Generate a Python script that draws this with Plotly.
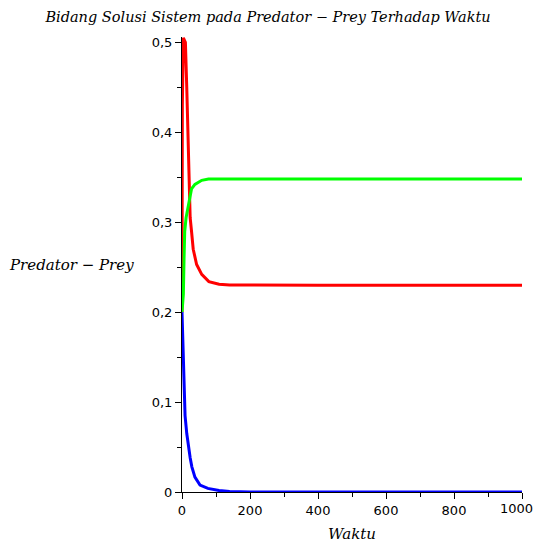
import plotly.graph_objects as go

# Time samples (Waktu)
t_red = [0, 1, 4, 10, 14, 18, 21, 24, 28, 33, 43, 58, 79, 109, 140, 200, 400, 600, 800, 1000]
red = [0.20, 0.43, 0.505, 0.50, 0.45, 0.40, 0.34, 0.305, 0.29, 0.27, 0.253, 0.242, 0.234, 0.231, 0.2302, 0.230, 0.230, 0.230, 0.230, 0.230]

t_green = [0, 4, 6, 8, 12, 16, 19, 24, 28, 38, 58, 78, 110, 200, 400, 600, 800, 1000]
green = [0.20, 0.22, 0.26, 0.29, 0.305, 0.313, 0.322, 0.331, 0.337, 0.342, 0.3466, 0.348, 0.348, 0.348, 0.348, 0.348, 0.348, 0.348]

t_blue = [0, 3, 6, 9, 14, 19, 24, 29, 38, 53, 76, 109, 140, 200, 400, 600, 800, 1000]
blue = [0.20, 0.15, 0.11, 0.085, 0.065, 0.05, 0.038, 0.028, 0.0166, 0.0077, 0.004, 0.0017, 0.0005, 0.0, 0.0, 0.0, 0.0, 0.0]

x_tickvals = [0, 200, 400, 600, 800, 1000]
x_ticktext = ["0", "200", "400", "600", "800", "1000"]
y_tickvals = [0, 0.1, 0.2, 0.3, 0.4, 0.5]
y_ticktext = ["0", "0,1", "0,2", "0,3", "0,4", "0,5"]

title_text = "Bidang Solusi Sistem pada Predator \u2212 Prey Terhadap Waktu"
ytitle_text = "Predator \u2212 Prey"
xtitle_text = "Waktu"

fig = go.Figure()
fig.add_trace(go.Scatter(x=t_red, y=red, mode="lines", line=dict(color="#ff0000", width=3), showlegend=False))
fig.add_trace(go.Scatter(x=t_green, y=green, mode="lines", line=dict(color="#00ff00", width=3), showlegend=False))
fig.add_trace(go.Scatter(x=t_blue, y=blue, mode="lines", line=dict(color="#0000ff", width=3), showlegend=False))

serif = "DejaVu Serif"
sans = "DejaVu Sans"
tickfont = dict(family=sans, size=13, color="black")

# the last x tick label sits at the page edge; draw it nudged inside so it is not cut
shown_ticktext = x_ticktext[:-1] + [""]

fig.update_layout(
    width=536, height=543,
    margin=dict(l=182, r=14, t=37, b=51),
    paper_bgcolor="white", plot_bgcolor="white",
    showlegend=False,
    title=dict(text=title_text, x=0.5, xanchor="center", y=0.968, yanchor="middle",
               font=dict(family=serif, size=14.5, color="black", style="italic")),
    xaxis=dict(range=[0, 1000], tickvals=x_tickvals, ticktext=shown_ticktext, automargin=False,
               showgrid=False, zeroline=False, showline=True, linecolor="black", linewidth=1,
               ticks="outside", ticklen=6, tickcolor="black",
               minor=dict(tickvals=[100, 300, 500, 700, 900], ticks="outside", ticklen=4, tickcolor="black"),
               tickfont=tickfont,
               title=dict(text=xtitle_text, font=dict(family=serif, size=15, color="black", style="italic"), standoff=12)),
    yaxis=dict(range=[0, 0.506], tickvals=y_tickvals, ticktext=y_ticktext, automargin=False,
               showgrid=False, zeroline=False, showline=True, linecolor="black", linewidth=1,
               ticks="outside", ticklen=6, tickcolor="black",
               minor=dict(tickvals=[0.05, 0.15, 0.25, 0.35, 0.45], ticks="outside", ticklen=4, tickcolor="black"),
               tickfont=tickfont),
    annotations=[
        dict(text=ytitle_text, xref="paper", yref="paper", x=-0.135, y=0.5,
             xanchor="right", yanchor="middle", showarrow=False,
             font=dict(family=serif, size=15, color="black", style="italic")),
        dict(text=x_ticktext[-1], xref="x", yref="paper", x=x_tickvals[-1], y=0,
             xanchor="right", yanchor="top", xshift=13, yshift=-7, showarrow=False,
             font=tickfont),
    ],
)

fig.write_html("out.html")
